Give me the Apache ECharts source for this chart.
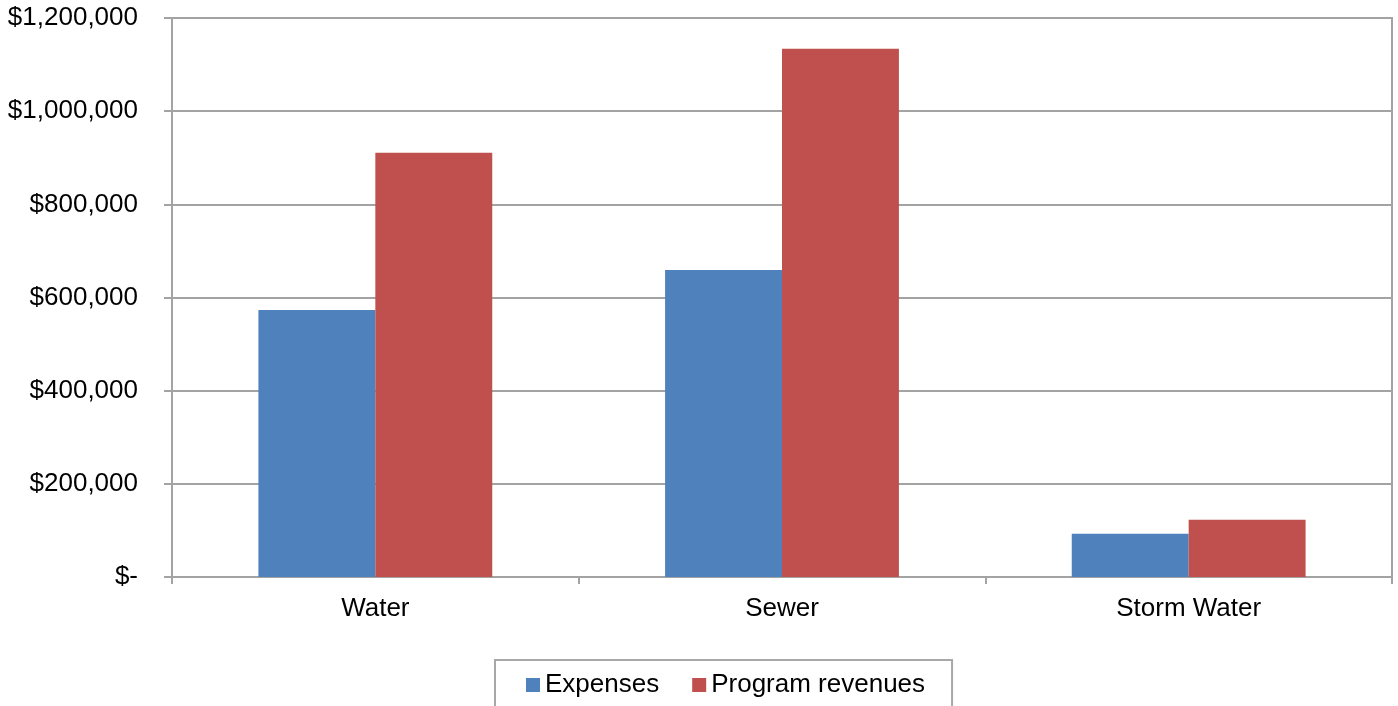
<!DOCTYPE html>
<html>
<head>
<meta charset="utf-8">
<title>Expenses and Program Revenues</title>
<script src="https://cdn.jsdelivr.net/npm/echarts@6/dist/echarts.min.js"></script>
<style>
  html, body { margin: 0; padding: 0; background: #ffffff; }
  #chart { width: 1398px; height: 706px; }
</style>
</head>
<body>
<div id="chart"></div>
<script>
// Utility funds
const categories = ['Water', 'Sewer', 'Storm Water'];
const expenses = [573000, 659000, 93000];
const programRevenues = [911000, 1134000, 123000];
const seriesNames = ['Expenses', 'Program revenues'];
const yMax = 1200000;
const yStep = 200000;

const FONT = '"Liberation Sans", Arial, sans-serif';
const GRID_GREY = '#a3a3a3';

function currency(v) {
  if (v === 0) return '$-';
  return '$' + v.toLocaleString('en-US');
}

const chart = echarts.init(document.getElementById('chart'), null, { renderer: 'canvas' });

chart.setOption({
  animation: false,
  backgroundColor: '#ffffff',
  textStyle: { fontFamily: FONT, color: '#000' },
  grid: {
    left: 172, top: 18, width: 1220, height: 559,
    show: true, borderColor: GRID_GREY, borderWidth: 2, backgroundColor: 'transparent'
  },
  legend: {
    data: seriesNames,
    left: 495, top: 660,
    padding: [12, 27, 28, 31],
    itemWidth: 14, itemHeight: 14, itemGap: 33,
    icon: 'rect',
    borderColor: '#a8a8a8', borderWidth: 2,
    textStyle: { fontFamily: FONT, fontSize: 26, color: '#000' }
  },
  xAxis: {
    type: 'category',
    data: categories,
    boundaryGap: true,
    axisLine: { show: true, lineStyle: { color: GRID_GREY, width: 2 } },
    axisTick: { show: true, interval: 0, length: 7, lineStyle: { color: GRID_GREY, width: 2 } },
    axisLabel: { fontFamily: FONT, fontSize: 26, color: '#000', margin: 19, interval: 0 },
    splitLine: { show: false }
  },
  yAxis: {
    type: 'value',
    min: 0, max: yMax, interval: yStep,
    axisLine: { show: true, lineStyle: { color: GRID_GREY, width: 2 } },
    axisTick: { show: true, length: 8, lineStyle: { color: GRID_GREY, width: 2 } },
    axisLabel: {
      fontFamily: FONT, fontSize: 26, color: '#000', margin: 34,
      padding: [4, 0, 0, 0], formatter: currency
    },
    splitLine: { show: true, lineStyle: { color: GRID_GREY, width: 2 } }
  },
  series: [
    {
      name: seriesNames[0], type: 'bar', data: expenses,
      barGap: '0%', barCategoryGap: '42.5%',
      itemStyle: { color: '#4f81bd' }
    },
    {
      name: seriesNames[1], type: 'bar', data: programRevenues,
      barGap: '0%', barCategoryGap: '42.5%',
      itemStyle: { color: '#c0504d' }
    }
  ]
});
</script>
</body>
</html>
